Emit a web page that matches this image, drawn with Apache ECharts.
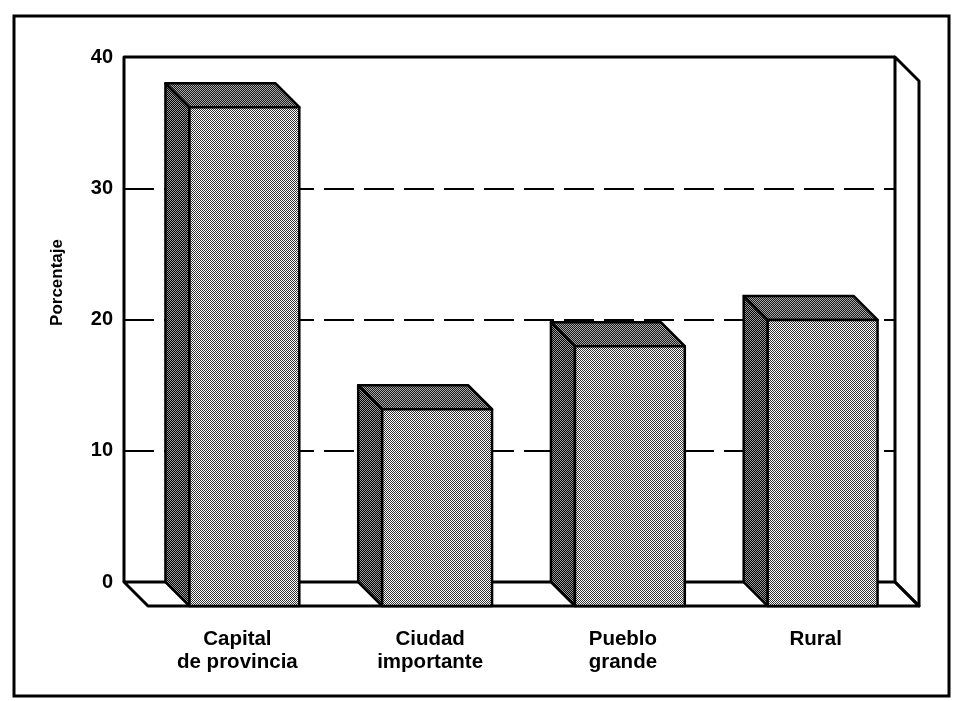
<!DOCTYPE html>
<html>
<head>
<meta charset="utf-8">
<script src="https://cdn.jsdelivr.net/npm/echarts@6/dist/echarts.min.js"></script>
<style>
html, body { margin: 0; padding: 0; background: #fff; }
#chart { width: 954px; height: 701px; }
</style>
</head>
<body>
<div id="chart"></div>
<script>
// datos
var categories = ['Capital\nde provincia', 'Ciudad\nimportante', 'Pueblo\ngrande', 'Rural'];
var values = [38, 15, 19.8, 21.8];
var yTicks = [0, 10, 20, 30, 40];

var FONT = "'Liberation Sans', Arial, sans-serif";
var DX = 24, DY = 24; // profundidad del efecto 3d

// trama de puntos tipo fotocopia
function makePattern(bg, dot) {
  var c = document.createElement('canvas');
  c.width = 2; c.height = 2;
  var ctx = c.getContext('2d');
  ctx.fillStyle = bg;
  ctx.fillRect(0, 0, 2, 2);
  ctx.fillStyle = dot;
  ctx.fillRect(0, 0, 1, 1);
  ctx.fillRect(1, 1, 1, 1);
  return { image: c, repeat: 'repeat' };
}
var frontFill = makePattern('#ffffff', '#333333');
var sideFill = makePattern('#000000', '#9a9a9a');
var topFill = makePattern('#1a1a1a', '#a8a8a8');

function renderFrame(params, api) {
  var cs = params.coordSys;
  var x = cs.x, y = cs.y, w = cs.width, h = cs.height;
  var st = { fill: 'none', stroke: '#000', lineWidth: 3, lineJoin: 'round' };
  return {
    type: 'group',
    children: [
      { type: 'polygon', shape: { points: [[x, y + h], [x + w, y + h], [x + w + DX, y + h + DY], [x + DX, y + h + DY]] },
        style: { fill: '#fff', stroke: '#000', lineWidth: 3, lineJoin: 'round' } },
      { type: 'polygon', shape: { points: [[x + w, y], [x + w + DX, y + DY], [x + w + DX, y + h + DY], [x + w, y + h]] }, style: st },
      { type: 'polyline', shape: { points: [[x, y + h], [x, y], [x + w, y]] }, style: st }
    ]
  };
}

function renderBar(params, api) {
  var top = api.coord([api.value(0), api.value(1)]);
  var base = api.coord([api.value(0), 0]);
  var w = api.size([1, 0])[0] * 0.57;
  var x0 = top[0] - w / 2, x1 = top[0] + w / 2;
  var yt = top[1], yb = base[1];
  var line = { stroke: '#000', lineWidth: 2.5, lineJoin: 'round' };
  return {
    type: 'group',
    children: [
      { type: 'polygon', shape: { points: [[x0, yt], [x0 + DX, yt + DY], [x0 + DX, yb + DY], [x0, yb]] },
        style: Object.assign({ fill: sideFill }, line) },
      { type: 'polygon', shape: { points: [[x0, yt], [x1, yt], [x1 + DX, yt + DY], [x0 + DX, yt + DY]] },
        style: Object.assign({ fill: topFill }, line) },
      { type: 'rect', shape: { x: x0 + DX, y: yt + DY, width: w, height: yb - yt },
        style: Object.assign({ fill: frontFill }, line) }
    ]
  };
}

var chart = echarts.init(document.getElementById('chart'));
var option = {
  backgroundColor: '#fff',
  animation: false,
  textStyle: { fontFamily: FONT },
  grid: { left: 124, right: 59, top: 57, bottom: 119 },
  graphic: [{
    type: 'rect', z: -10,
    shape: { x: 14, y: 16, width: 935, height: 680 },
    style: { fill: 'none', stroke: '#000', lineWidth: 3 }
  }],
  xAxis: {
    type: 'category',
    data: categories,
    axisLine: { show: false },
    axisTick: { show: false },
    axisLabel: {
      margin: 46,
      color: '#000',
      fontFamily: FONT,
      fontSize: 20.5,
      fontWeight: 'bold',
      lineHeight: 23,
      padding: [0, 0, 0, 34]
    }
  },
  yAxis: {
    type: 'value',
    min: yTicks[0],
    max: yTicks[yTicks.length - 1],
    interval: yTicks[1] - yTicks[0],
    name: 'Porcentaje',
    nameLocation: 'middle',
    nameGap: 58,
    nameRotate: 90,
    nameTextStyle: { color: '#000', fontFamily: FONT, fontSize: 17, fontWeight: 'bold', padding: [0, 0, 0, 74] },
    axisLine: { show: false },
    axisTick: { show: false },
    axisLabel: { margin: 11, color: '#000', fontFamily: FONT, fontSize: 20, fontWeight: 'bold' },
    splitLine: { lineStyle: { color: '#000', width: 2, type: [30, 10] } }
  },
  series: [
    {
      type: 'custom',
      silent: true,
      z: 1,
      renderItem: renderFrame,
      data: [[0, 0]]
    },
    {
      type: 'custom',
      z: 3,
      renderItem: renderBar,
      encode: { x: 0, y: 1 },
      data: values.map(function (v, i) { return [i, v]; })
    }
  ]
};
chart.setOption(option);
</script>
</body>
</html>
